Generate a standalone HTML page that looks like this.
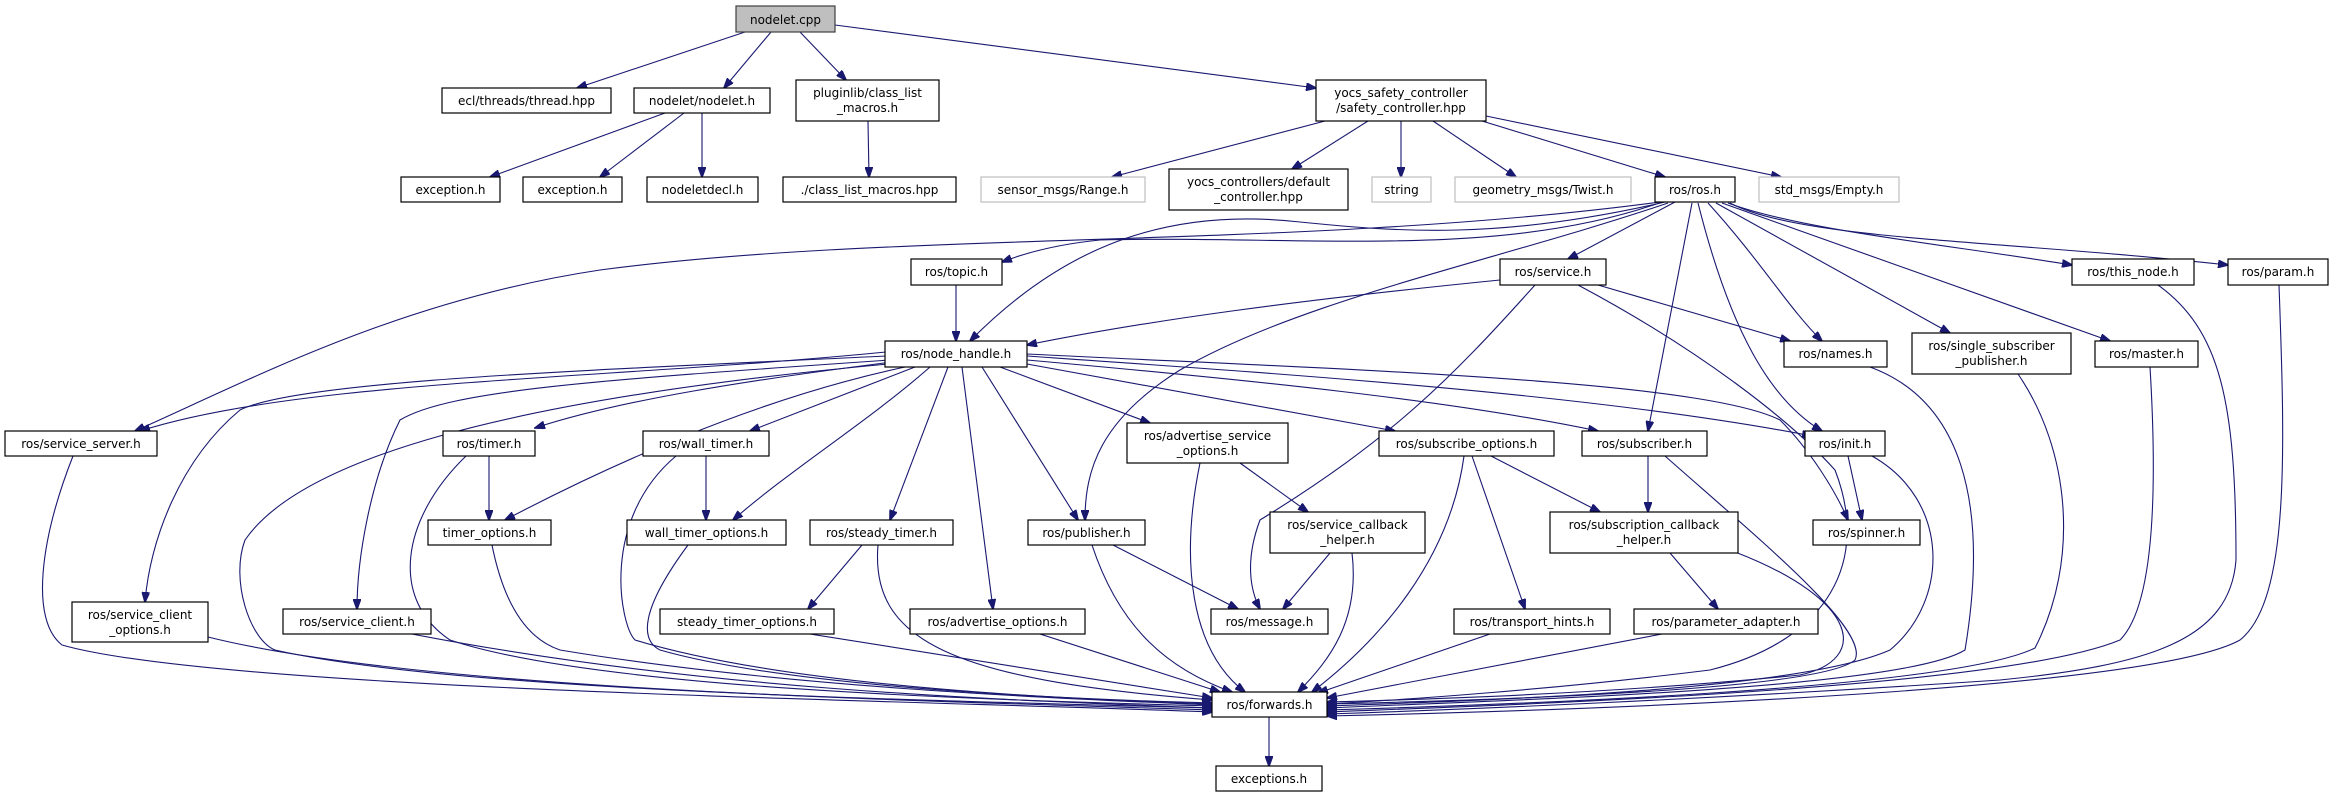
<!DOCTYPE html>
<html><head><meta charset="utf-8"><style>
html,body{margin:0;padding:0;background:#fff;}
svg{display:block;}
text{font-family:"DejaVu Sans","Liberation Sans",sans-serif;font-size:12px;fill:#000;}
.n{fill:#fff;stroke:#000;stroke-width:1.2;}
.g{fill:#fff;stroke:#bfbfbf;stroke-width:1.2;}
.e{fill:none;stroke:#191970;stroke-width:1.1;}
</style></head><body>
<svg width="2330" height="797" viewBox="0 0 2330 797" xmlns="http://www.w3.org/2000/svg">
<defs><marker id="a" markerWidth="11" markerHeight="8" refX="10" refY="4" orient="auto" markerUnits="userSpaceOnUse"><path d="M0,0 L11,4 L0,8 Z" fill="#191970" stroke="#191970"/></marker></defs>
<g text-anchor="middle" marker-end="url(#a)">
<!-- top -->
<path class="e" marker-end="url(#a)" d="M745,32 L577,88"/>
<path class="e" marker-end="url(#a)" d="M771,32 L724,88"/>
<path class="e" marker-end="url(#a)" d="M800,32 L846,80"/>
<path class="e" marker-end="url(#a)" d="M835,25 L1316,88"/>
<path class="e" marker-end="url(#a)" d="M665,113 L490,177"/>
<path class="e" marker-end="url(#a)" d="M684,113 L600,177"/>
<path class="e" marker-end="url(#a)" d="M702,113 L702,177"/>
<path class="e" marker-end="url(#a)" d="M868,121 L869,177"/>
<path class="e" marker-end="url(#a)" d="M1325,121 L1112,177"/>
<path class="e" marker-end="url(#a)" d="M1368,121 L1292,169"/>
<path class="e" marker-end="url(#a)" d="M1401,121 L1401,177"/>
<path class="e" marker-end="url(#a)" d="M1433,121 L1516,177"/>
<path class="e" marker-end="url(#a)" d="M1482,121 L1665,177"/>
<path class="e" marker-end="url(#a)" d="M1486,116 L1781,177"/>
<!-- ros.h out -->
<path class="e" marker-end="url(#a)" d="M1662,202 C1500,260 1300,235 1100,240 C1050,245 1020,255 1002,262"/>
<path class="e" marker-end="url(#a)" d="M1665,202 C1500,240 1400,232 1300,222 C1150,205 1050,260 970,341"/>
<path class="e" marker-end="url(#a)" d="M1660,202 C1300,250 900,230 600,270 C400,300 250,380 135,431"/>
<path class="e" marker-end="url(#a)" d="M1675,202 L1568,259"/>
<path class="e" marker-end="url(#a)" d="M1668,203 C1500,260 1300,300 1180,370 C1100,420 1085,470 1085,520"/>
<path class="e" marker-end="url(#a)" d="M1692,203 L1648,431"/>
<path class="e" marker-end="url(#a)" d="M1698,203 C1730,330 1770,400 1822,431"/>
<path class="e" marker-end="url(#a)" d="M1708,203 C1760,260 1790,310 1822,341"/>
<path class="e" marker-end="url(#a)" d="M1716,203 L1950,333"/>
<path class="e" marker-end="url(#a)" d="M1722,203 L2110,341"/>
<path class="e" marker-end="url(#a)" d="M1728,203 C1800,230 1950,245 2072,265"/>
<path class="e" marker-end="url(#a)" d="M1730,203 C1800,240 2000,240 2228,265"/>
<!-- service.h out -->
<path class="e" marker-end="url(#a)" d="M1500,280 C1300,300 1150,320 1027,345"/>
<path class="e" marker-end="url(#a)" d="M1598,285 L1790,341"/>
<path class="e" marker-end="url(#a)" d="M1535,285 C1450,380 1390,440 1260,520 C1245,560 1250,590 1260,609"/>
<path class="e" marker-end="url(#a)" d="M1578,285 C1700,350 1790,420 1835,470 C1870,560 1830,640 1710,670 C1550,690 1400,700 1327,704"/>
<path class="e" marker-end="url(#a)" d="M956,285 L956,341"/>
<!-- node_handle out -->
<path class="e" marker-end="url(#a)" d="M886,352 C600,380 300,380 140,431"/>
<path class="e" marker-end="url(#a)" d="M886,356 C600,370 300,380 240,410 C180,460 150,540 145,602"/>
<path class="e" marker-end="url(#a)" d="M890,360 C600,380 450,390 400,420 C370,480 357,560 357,609"/>
<path class="e" marker-end="url(#a)" d="M888,364 C500,400 300,460 245,540 C230,580 250,640 275,650 C450,690 900,700 1212,708"/>
<path class="e" marker-end="url(#a)" d="M892,362 C750,380 620,400 535,428"/>
<path class="e" marker-end="url(#a)" d="M905,367 C750,400 600,470 505,520"/>
<path class="e" marker-end="url(#a)" d="M915,367 L750,431"/>
<path class="e" marker-end="url(#a)" d="M930,367 C870,420 790,470 733,520"/>
<path class="e" marker-end="url(#a)" d="M948,367 L890,520"/>
<path class="e" marker-end="url(#a)" d="M962,367 L993,609"/>
<path class="e" marker-end="url(#a)" d="M982,367 L1078,520"/>
<path class="e" marker-end="url(#a)" d="M1000,367 L1150,423"/>
<path class="e" marker-end="url(#a)" d="M1027,364 L1395,431"/>
<path class="e" marker-end="url(#a)" d="M1027,360 C1250,380 1450,400 1598,431"/>
<path class="e" marker-end="url(#a)" d="M1027,356 C1300,375 1600,395 1812,436"/>
<path class="e" marker-end="url(#a)" d="M1027,354 C1350,370 1700,380 1780,420 C1810,450 1835,490 1848,520"/>
<!-- mid -->
<path class="e" marker-end="url(#a)" d="M489,456 L489,520"/>
<path class="e" marker-end="url(#a)" d="M706,456 L706,520"/>
<path class="e" marker-end="url(#a)" d="M862,545 L808,609"/>
<path class="e" marker-end="url(#a)" d="M1113,545 L1238,609"/>
<path class="e" marker-end="url(#a)" d="M1240,463 L1308,512"/>
<path class="e" marker-end="url(#a)" d="M1330,553 L1283,609"/>
<path class="e" marker-end="url(#a)" d="M1491,456 L1600,512"/>
<path class="e" marker-end="url(#a)" d="M1472,456 L1525,609"/>
<path class="e" marker-end="url(#a)" d="M1648,456 L1648,512"/>
<path class="e" marker-end="url(#a)" d="M1670,553 L1718,609"/>
<path class="e" marker-end="url(#a)" d="M1848,456 L1862,520"/>
<path class="e" marker-end="url(#a)" d="M1269,717 L1269,766"/>
<!-- into forwards -->
<path class="e" marker-end="url(#a)" d="M73,456 C40,540 30,620 62,645 C220,690 900,700 1212,712"/>
<path class="e" marker-end="url(#a)" d="M208,637 C420,690 900,700 1212,710"/>
<path class="e" marker-end="url(#a)" d="M412,634 C700,690 1000,700 1212,708"/>
<path class="e" marker-end="url(#a)" d="M466,456 C400,520 390,600 450,640 C600,690 1000,700 1212,706"/>
<path class="e" marker-end="url(#a)" d="M492,545 C505,610 530,640 560,650 C800,690 1100,700 1212,705"/>
<path class="e" marker-end="url(#a)" d="M676,456 C600,520 620,625 635,640 C800,690 1100,700 1212,704"/>
<path class="e" marker-end="url(#a)" d="M688,545 C640,610 640,640 660,650 C800,690 1100,700 1212,703"/>
<path class="e" marker-end="url(#a)" d="M878,545 C870,640 950,680 1212,700"/>
<path class="e" marker-end="url(#a)" d="M810,634 L1212,698"/>
<path class="e" marker-end="url(#a)" d="M1040,634 L1220,692"/>
<path class="e" marker-end="url(#a)" d="M1092,545 C1120,630 1170,670 1232,692"/>
<path class="e" marker-end="url(#a)" d="M1200,463 C1180,560 1190,650 1245,692"/>
<path class="e" marker-end="url(#a)" d="M1352,553 C1360,620 1330,660 1298,692"/>
<path class="e" marker-end="url(#a)" d="M1464,456 C1450,560 1380,640 1312,692"/>
<path class="e" marker-end="url(#a)" d="M1490,634 L1318,693"/>
<path class="e" marker-end="url(#a)" d="M1662,634 L1327,698"/>
<path class="e" marker-end="url(#a)" d="M1735,552 C1860,600 1870,660 1800,675 C1600,695 1400,700 1327,702"/>
<path class="e" marker-end="url(#a)" d="M1665,456 C1760,540 1870,630 1855,660 C1820,690 1500,700 1327,704"/>
<path class="e" marker-end="url(#a)" d="M1872,456 C1950,500 1950,600 1890,650 C1800,690 1500,700 1327,706"/>
<path class="e" marker-end="url(#a)" d="M1870,367 C1960,400 1990,500 1965,650 C1900,690 1500,700 1327,708"/>
<path class="e" marker-end="url(#a)" d="M2018,374 C2070,450 2080,560 2035,648 C1950,690 1500,705 1327,710"/>
<path class="e" marker-end="url(#a)" d="M2150,367 C2155,450 2160,600 2120,640 C2000,690 1500,705 1327,712"/>
<path class="e" marker-end="url(#a)" d="M2158,285 C2220,330 2236,400 2236,560 C2230,640 2150,665 2000,680 C1700,700 1450,710 1327,714"/>
<path class="e" marker-end="url(#a)" d="M2279,285 C2285,450 2290,600 2240,640 C2150,690 1600,710 1327,716"/>
</g>
<!-- nodes -->
<g text-anchor="middle">
<rect x="736" y="6" width="99" height="26" fill="#bfbfbf" stroke="#404040" stroke-width="1.2"/><text x="785.5" y="24">nodelet.cpp</text>
<rect class="n" x="442" y="88" width="169" height="25"/><text x="526.5" y="105">ecl/threads/thread.hpp</text>
<rect class="n" x="634" y="88" width="136" height="25"/><text x="702" y="105">nodelet/nodelet.h</text>
<rect class="n" x="796" y="80" width="143" height="41"/><text x="867.5" y="97">pluginlib/class_list</text><text x="867.5" y="112">_macros.h</text>
<rect class="n" x="1316" y="80" width="170" height="41"/><text x="1401" y="97">yocs_safety_controller</text><text x="1401" y="112">/safety_controller.hpp</text>
<rect class="n" x="401" y="177" width="99" height="25"/><text x="450.5" y="194">exception.h</text>
<rect class="n" x="523" y="177" width="99" height="25"/><text x="572.5" y="194">exception.h</text>
<rect class="n" x="647" y="177" width="111" height="25"/><text x="702.5" y="194">nodeletdecl.h</text>
<rect class="n" x="783" y="177" width="173" height="25"/><text x="869.5" y="194">./class_list_macros.hpp</text>
<rect class="g" x="981" y="177" width="164" height="25"/><text x="1063" y="194">sensor_msgs/Range.h</text>
<rect class="n" x="1169" y="169" width="179" height="41"/><text x="1258.5" y="186">yocs_controllers/default</text><text x="1258.5" y="201">_controller.hpp</text>
<rect class="g" x="1372" y="177" width="59" height="25"/><text x="1401.5" y="194">string</text>
<rect class="g" x="1455" y="177" width="176" height="25"/><text x="1543" y="194">geometry_msgs/Twist.h</text>
<rect class="n" x="1655" y="177" width="80" height="25"/><text x="1695" y="194">ros/ros.h</text>
<rect class="g" x="1759" y="177" width="140" height="25"/><text x="1829" y="194">std_msgs/Empty.h</text>
<rect class="n" x="911" y="259" width="91" height="26"/><text x="956.5" y="276">ros/topic.h</text>
<rect class="n" x="1500" y="259" width="106" height="26"/><text x="1553" y="276">ros/service.h</text>
<rect class="n" x="2072" y="259" width="122" height="26"/><text x="2133" y="276">ros/this_node.h</text>
<rect class="n" x="2228" y="259" width="100" height="26"/><text x="2278" y="276">ros/param.h</text>
<rect class="n" x="885" y="341" width="142" height="26"/><text x="956" y="358">ros/node_handle.h</text>
<rect class="n" x="1784" y="341" width="103" height="26"/><text x="1835.5" y="358">ros/names.h</text>
<rect class="n" x="1912" y="333" width="159" height="41"/><text x="1991.5" y="350">ros/single_subscriber</text><text x="1991.5" y="365">_publisher.h</text>
<rect class="n" x="2095" y="341" width="103" height="26"/><text x="2146.5" y="358">ros/master.h</text>
<rect class="n" x="5" y="431" width="152" height="25"/><text x="81" y="448">ros/service_server.h</text>
<rect class="n" x="443" y="431" width="92" height="25"/><text x="489" y="448">ros/timer.h</text>
<rect class="n" x="643" y="431" width="126" height="25"/><text x="706" y="448">ros/wall_timer.h</text>
<rect class="n" x="1127" y="423" width="161" height="40"/><text x="1207.5" y="440">ros/advertise_service</text><text x="1207.5" y="455">_options.h</text>
<rect class="n" x="1379" y="431" width="175" height="25"/><text x="1466.5" y="448">ros/subscribe_options.h</text>
<rect class="n" x="1582" y="431" width="125" height="25"/><text x="1644.5" y="448">ros/subscriber.h</text>
<rect class="n" x="1805" y="431" width="80" height="25"/><text x="1845" y="448">ros/init.h</text>
<rect class="n" x="428" y="520" width="123" height="25"/><text x="489.5" y="537">timer_options.h</text>
<rect class="n" x="627" y="520" width="159" height="25"/><text x="706.5" y="537">wall_timer_options.h</text>
<rect class="n" x="810" y="520" width="143" height="25"/><text x="881.5" y="537">ros/steady_timer.h</text>
<rect class="n" x="1028" y="520" width="117" height="25"/><text x="1086.5" y="537">ros/publisher.h</text>
<rect class="n" x="1270" y="512" width="155" height="41"/><text x="1347.5" y="529">ros/service_callback</text><text x="1347.5" y="544">_helper.h</text>
<rect class="n" x="1550" y="512" width="188" height="41"/><text x="1644" y="529">ros/subscription_callback</text><text x="1644" y="544">_helper.h</text>
<rect class="n" x="1813" y="520" width="107" height="25"/><text x="1866.5" y="537">ros/spinner.h</text>
<rect class="n" x="72" y="602" width="136" height="40"/><text x="140" y="619">ros/service_client</text><text x="140" y="634">_options.h</text>
<rect class="n" x="283" y="609" width="148" height="25"/><text x="357" y="626">ros/service_client.h</text>
<rect class="n" x="660" y="609" width="174" height="25"/><text x="747" y="626">steady_timer_options.h</text>
<rect class="n" x="910" y="609" width="175" height="25"/><text x="997.5" y="626">ros/advertise_options.h</text>
<rect class="n" x="1211" y="609" width="117" height="25"/><text x="1269.5" y="626">ros/message.h</text>
<rect class="n" x="1454" y="609" width="156" height="25"/><text x="1532" y="626">ros/transport_hints.h</text>
<rect class="n" x="1634" y="609" width="184" height="25"/><text x="1726" y="626">ros/parameter_adapter.h</text>
<rect class="n" x="1212" y="692" width="115" height="25"/><text x="1269.5" y="709">ros/forwards.h</text>
<rect class="n" x="1216" y="766" width="106" height="25"/><text x="1269" y="783">exceptions.h</text>
</g>
</svg>
</body></html>
